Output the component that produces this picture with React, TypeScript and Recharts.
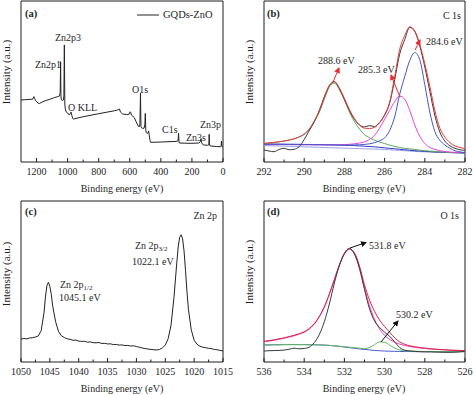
import React from "react";
import { LineChart, Line, XAxis, YAxis, ReferenceArea, Legend } from "recharts";

const FONT = "'Liberation Serif', 'Times New Roman', serif";
const INK = "#1e1e1e";

// (a) survey spectrum
const surveyEnergy = [
  1300, 1270, 1240, 1225, 1217, 1211, 1205, 1198, 1190, 1182, 1165, 1140, 1110, 1085, 1064, 1052,
  1048, 1045, 1043, 1040, 1035, 1027, 1024, 1021, 1018, 1015, 1010, 1000, 989, 982, 978, 973, 967,
  963, 900, 800, 700, 678, 670, 666, 660, 646, 620, 605, 598, 594, 590, 571, 560, 549, 540, 535,
  531, 528, 524, 517, 508, 503, 500, 497, 494, 489, 483, 479, 475, 470, 466, 400, 302, 289, 286,
  283, 281, 250, 200, 155, 146, 142, 138, 133, 124, 100, 92, 90, 89, 87, 85, 77, 40, 17, 12, 10, 8,
  5, 0,
];
const surveyCounts = [
  38.5, 38.7, 38.9, 39.0, 40.6, 39.2, 38.0, 37.4, 36.6, 36.3, 37.2, 38.2, 39.1, 40.0, 40.6, 41.0,
  43, 62.3, 41, 38.6, 38.2, 38.5, 41, 72.7, 36, 33, 31.2, 30.5, 29.2, 30.2, 31.0, 29, 27, 26.7, 28.1,
  30, 31.8, 32.3, 32.8, 32.9, 31, 29.8, 29.5, 29.6, 31.2, 30.8, 29.2, 27.6, 25.2, 23, 21.8, 23, 42.7,
  22, 21.2, 20.9, 21, 23, 30.2, 20, 18.4, 17.8, 17.9, 19.3, 17, 13.5, 12.2, 12.4, 12.8, 13.2, 17.8,
  12.3, 11.8, 11.7, 11.6, 11.8, 12.6, 14.1, 12.2, 11.1, 10.6, 10.4, 10.6, 13, 17.2, 11.5, 10.2, 9.9,
  9.6, 9.5, 9.8, 13, 10.2, 9.4, 9.3,
];
const surveyTicks = [0, 100, 200, 300, 400, 500, 600, 700, 800, 900, 1000, 1100, 1200];
const surveyLabels = [0, 200, 400, 600, 800, 1000, 1200];

// (b) C 1s
const c1sEnergy = [
  292, 291.75, 291.5, 291.25, 291, 290.75, 290.5, 290.25, 290, 289.75, 289.5, 289.25, 289, 288.75,
  288.5, 288.25, 288, 287.75, 287.5, 287.25, 287, 286.75, 286.5, 286.25, 286, 285.75, 285.5, 285.25,
  285, 284.75, 284.5, 284.25, 284, 283.75, 283.5, 283.25, 283, 282.75, 282.5, 282.25, 282,
];
const c1sRaw = [
  7.5, 6.8, 6.4, 7.8, 8.5, 7.6, 7.9, 9.5, 14, 19.5, 25, 32, 40.5, 47.5, 49.8, 45.5, 39, 32, 26.5, 23,
  21.8, 22.6, 22, 24.5, 29, 36.5, 51, 67, 76, 83.6, 81, 72, 59, 44, 29, 18.5, 13, 10, 8.5, 7.6, 7.2,
];
const c1sFit = [
  11.6, 11.9, 12.2, 12.6, 13, 13.6, 14.3, 15.6, 17.5, 20.5, 25.5, 31.5, 40, 47.5, 50, 46, 39.5, 32.5,
  27, 23, 21, 20.8, 21.5, 24.5, 29.5, 37, 53, 70, 78.5, 84, 81.5, 73, 61, 47, 32, 21, 15.5, 12, 10, 9,
  8.3,
];
const c1sCO = [
  11.4, 11.7, 12, 12.5, 13, 13.7, 14.5, 15.6, 17, 20, 25, 31, 39, 46.5, 49, 45, 38.5, 31, 25, 20.5,
  17, 15, 13.5, 12.4, 11.5, 10.5, 9.7, 9, 8.5, 8.1, 7.8, 7.4, 7, 6.8, 6.5, 6.3, 6.1, 5.9, 5.8, 5.7,
  5.6,
];
const c1sCOH = [
  10.8, 10.8, 10.8, 10.8, 10.8, 10.8, 10.7, 10.7, 10.7, 10.7, 10.7, 10.7, 10.7, 10.7, 10.7, 10.8,
  10.8, 11, 11.3, 11.8, 12.5, 14, 16.5, 21, 26.5, 32, 37.5, 41, 39, 32, 23, 16, 11.5, 9, 7.8, 7, 6.5,
  6.2, 6, 5.9, 5.8,
];
const c1sCC = [
  11, 11, 11, 11, 10.9, 10.9, 10.9, 10.8, 10.8, 10.8, 10.7, 10.7, 10.7, 10.6, 10.6, 10.5, 10.5, 10.5,
  10.6, 10.7, 10.9, 11.3, 12, 13.2, 15, 19.5, 28, 42, 53, 63, 68, 63.5, 48, 31, 19, 13.5, 10.5, 8.5, 7,
  6.3, 5.8,
];
const c1sBg = [
  11.2, 11.2, 11.1, 11.1, 11.1, 11.0, 11.0, 11.0, 10.9, 10.9, 10.8, 10.8, 10.7, 10.7, 10.6, 10.5,
  10.4, 10.3, 10.2, 10.0, 9.8, 9.6, 9.4, 9.1, 8.8, 8.5, 8.2, 7.9, 7.6, 7.3, 7.0, 6.8, 6.6, 6.4, 6.2,
  6.1, 6.0, 5.9, 5.8, 5.7, 5.6,
];
const c1sBg2 = [
  10.2, 10.1, 10.0, 9.9, 9.8, 9.7, 9.6, 9.5, 9.4, 9.3, 9.2, 9.1, 9.0, 8.9, 8.8, 8.7, 8.6, 8.5, 8.4,
  8.3, 8.2, 8.1, 8.0, 7.9, 7.8, 7.6, 7.4, 7.2, 7.0, 6.8, 6.6, 6.4, 6.3, 6.2, 6.1, 6.0, 5.9, 5.8, 5.7,
  5.6, 5.5,
];
const c1sTicks = [282, 283, 284, 285, 286, 287, 288, 289, 290, 291, 292];
const c1sLabels = [282, 284, 286, 288, 290, 292];

// (c) Zn 2p
const zn2pEnergy = [
  1050, 1049.5, 1049, 1048.5, 1048, 1047.5, 1047, 1046.5, 1046, 1045.75, 1045.5, 1045.25, 1045,
  1044.75, 1044.5, 1044, 1043.5, 1043, 1042.5, 1042, 1041.5, 1041, 1040.5, 1040, 1039.5, 1039,
  1038.5, 1038, 1037.5, 1037, 1036.5, 1036, 1035.5, 1035, 1034.5, 1034, 1033.5, 1033, 1032.5, 1032,
  1031.5, 1031, 1030.5, 1030, 1029.5, 1029, 1028.5, 1028, 1027.5, 1027, 1026.5, 1026, 1025.5, 1025,
  1024.5, 1024, 1023.5, 1023, 1022.75, 1022.5, 1022.25, 1022, 1021.75, 1021.5, 1021.25, 1021,
  1020.5, 1020, 1019.5, 1019, 1018.5, 1018, 1017.5, 1017, 1016.5, 1016, 1015.5, 1015,
];
const zn2pCounts = [
  14.2, 14.6, 14.4, 14.9, 15.1, 15.5, 16.2, 19.5, 31, 41, 47.5, 49.5, 47, 42, 34.5, 25, 19, 16.3,
  15.2, 14.4, 14.1, 13.5, 13.6, 13, 12.8, 12.9, 12.3, 12.5, 12, 11.9, 12.1, 11.5, 11.6, 11.2, 11.3,
  10.8, 10.9, 10.5, 10.6, 10.2, 10.3, 9.9, 10.1, 9.6, 9.2, 8.7, 8.3, 8.1, 7.8, 7.6, 7.5, 7.8, 8.8,
  10.5, 14.5, 23, 40, 62, 72, 77.5, 79, 76.5, 69, 57, 44, 33, 20, 13.5, 11, 9.8, 9.2, 8.9, 8.5, 8.3,
  7.8, 7.6, 7.2, 6.9,
];
const zn2pTicks = [
  1015, 1017.5, 1020, 1022.5, 1025, 1027.5, 1030, 1032.5, 1035, 1037.5, 1040, 1042.5, 1045, 1047.5,
  1050,
];
const zn2pLabels = [1015, 1020, 1025, 1030, 1035, 1040, 1045, 1050];

// (d) O 1s
const o1sEnergy = [
  536, 535.75, 535.5, 535.25, 535, 534.75, 534.5, 534.25, 534, 533.75, 533.5, 533.25, 533, 532.75,
  532.5, 532.25, 532, 531.75, 531.5, 531.25, 531, 530.75, 530.5, 530.25, 530, 529.75, 529.5, 529.25,
  529, 528.75, 528.5, 528.25, 528, 527.75, 527.5, 527.25, 527, 526.75, 526.5, 526.25, 526,
];
const o1sRaw = [
  6.8, 7.0, 7.1, 7.2, 7.4, 7.9, 8.6, 8.2, 8.4, 9.2, 12, 17, 25, 36, 49, 60, 67.5, 70.6, 67, 58, 45,
  33, 25.5, 21.5, 18.5, 16, 12.5, 9, 7.3, 6.9, 6.6, 6.4, 6.3, 6.3, 6.2, 6.1, 6.0, 6.0, 6.1, 6.3, 6.8,
];
const o1sFit = [
  12.9, 13.3, 13.8, 14.4, 15, 15.8, 16.6, 17.6, 18.8, 20.8, 23.8, 28.3, 34.3, 42.3, 51.3, 60.3, 67.3,
  70.3, 67.8, 59.5, 48, 38.5, 31.5, 26, 22, 18.5, 15, 12.5, 11, 10.1, 9.5, 9.0, 8.6, 8.3, 8, 7.8,
  7.6, 7.4, 7.3, 7.2, 7.1,
];
const o1sMain = [
  12.6, 13.0, 13.5, 14.1, 14.7, 15.5, 16.3, 17.3, 18.5, 20.5, 23.5, 28, 34, 42, 51, 60, 67, 70, 67.5,
  59, 46, 35, 26.5, 20.5, 16.5, 14, 12.3, 11.1, 10.3, 9.6, 9.1, 8.7, 8.4, 8.1, 7.9, 7.7, 7.5, 7.3,
  7.2, 7.1, 7.0,
];
const o1sLattice = [
  10.6, 10.6, 10.7, 10.7, 10.8, 10.8, 10.8, 10.8, 10.8, 10.7, 10.7, 10.6, 10.5, 10.3, 10.1, 9.8, 9.5,
  9.2, 8.9, 8.6, 8.3, 9, 10.8, 12.5, 12.3, 10.5, 8.6, 7.5, 7.0, 6.8, 6.7, 6.6, 6.5, 6.5, 6.4, 6.4,
  6.4, 6.4, 6.4, 6.4, 6.4,
];
const o1sBg = [
  10.6, 10.6, 10.7, 10.7, 10.8, 10.8, 10.8, 10.8, 10.8, 10.7, 10.7, 10.6, 10.5, 10.3, 10, 9.7, 9.3,
  8.9, 8.5, 8.1, 7.8, 7.5, 7.2, 7.0, 6.8, 6.7, 6.6, 6.55, 6.5, 6.5, 6.45, 6.4, 6.4, 6.4, 6.4, 6.4,
  6.4, 6.4, 6.4, 6.4, 6.4,
];
const o1sTicks = [526, 527, 528, 529, 530, 531, 532, 533, 534, 535, 536];
const o1sLabels = [526, 528, 530, 532, 534, 536];

const surveyData = surveyEnergy.map((e, i) => ({ e, v: surveyCounts[i] }));
const c1sData = c1sEnergy.map((e, i) => ({
  e, raw: c1sRaw[i], fit: c1sFit[i], co: c1sCO[i], coh: c1sCOH[i], cc: c1sCC[i], bg: c1sBg[i], bg2: c1sBg2[i],
}));
const zn2pData = zn2pEnergy.map((e, i) => ({ e, v: zn2pCounts[i] }));
const o1sData = o1sEnergy.map((e, i) => ({
  e, raw: o1sRaw[i], fit: o1sFit[i], main: o1sMain[i], lat: o1sLattice[i], bg: o1sBg[i],
}));

// inward tick marks, labels only on the major values
function InTick(props: any) {
  const { x, y, payload, labels } = props;
  const major = labels.includes(payload.value);
  return (
    <g>
      <line x1={x} x2={x} y1={y} y2={y - (major ? 4 : 2.5)} stroke={INK} strokeWidth={1} />
      {major && (
        <text x={x} y={y + 12.5} textAnchor="middle" fontSize={10} fontFamily={FONT} fill={INK}>
          {payload.value}
        </text>
      )}
    </g>
  );
}

function SurveyLegend(props: any) {
  return (
    <div style={{ display: "flex", alignItems: "center", fontFamily: FONT, fontSize: 10.5, color: INK }}>
      {(props.payload || []).map((p: any) => (
        <React.Fragment key={p.value}>
          <svg width={22} height={8}>
            <line x1={0} x2={22} y1={4} y2={4} stroke={p.color} strokeWidth={1} />
          </svg>
          <span style={{ marginLeft: 4 }}>{p.value}</span>
        </React.Fragment>
      ))}
    </div>
  );
}

function xAxisFor(domain: number[], ticks: number[], labels: number[]) {
  return (
    <XAxis
      dataKey="e"
      type="number"
      domain={domain}
      reversed
      allowDataOverflow
      ticks={ticks}
      interval={0}
      height={30}
      axisLine={false}
      tickLine={false}
      tickSize={0}
      tickMargin={0}
      tick={(p: any) => <InTick {...p} labels={labels} />}
    />
  );
}

function frame(x1: number, x2: number) {
  return <ReferenceArea x1={x1} x2={x2} y1={0} y2={100} fill="none" stroke={INK} strokeWidth={1} ifOverflow="visible" />;
}

const W = 237;
const H = 197;

export default function App() {
  const lbl = { fontFamily: FONT, fontSize: 10, fill: INK } as const;
  const ylbl = { fontFamily: FONT, fontSize: 11, fill: INK } as const;
  const bold = { fontFamily: FONT, fontSize: 10.5, fontWeight: 700, fill: INK } as const;
  return (
    <div style={{ position: "absolute", left: 0, top: 0, width: 474, height: 395, background: "#fff" }}>
      <div style={{ position: "absolute", left: 0, top: 0 }}>
        <LineChart width={W} height={H} data={surveyData} margin={{ top: 1, right: 14, bottom: 5, left: 21 }}>
          {xAxisFor([0, 1300], surveyTicks, surveyLabels)}
          <YAxis hide type="number" domain={[0, 100]} />
          {frame(0, 1300)}
          <Legend
            verticalAlign="middle"
            align="center"
            layout="horizontal"
            content={<SurveyLegend />}
            wrapperStyle={{ top: 9, left: 137, width: "auto" }}
          />
          <Line dataKey="v" name="GQDs-ZnO" type="linear" stroke="#222" strokeWidth={1} dot={false} isAnimationActive={false} />
        </LineChart>
      </div>
      <div style={{ position: "absolute", left: 237, top: 0 }}>
        <LineChart width={W} height={H} data={c1sData} margin={{ top: 1, right: 9, bottom: 5, left: 27 }}>
          {xAxisFor([282, 292], c1sTicks, c1sLabels)}
          <YAxis hide type="number" domain={[0, 100]} />
          {frame(282, 292)}
          <Line dataKey="bg2" type="monotone" stroke="#9aa3e6" strokeWidth={1} dot={false} isAnimationActive={false} />
          <Line dataKey="bg" type="monotone" stroke="#2e36c4" strokeWidth={1} dot={false} isAnimationActive={false} />
          <Line dataKey="co" type="monotone" stroke="#5aa955" strokeWidth={1} dot={false} isAnimationActive={false} />
          <Line dataKey="coh" type="monotone" stroke="#e045e0" strokeWidth={1} dot={false} isAnimationActive={false} />
          <Line dataKey="cc" type="monotone" stroke="#4358c6" strokeWidth={1} dot={false} isAnimationActive={false} />
          <Line dataKey="raw" type="monotone" stroke="#3a3a3a" strokeWidth={1} dot={false} isAnimationActive={false} />
          <Line dataKey="fit" type="monotone" stroke="#ea3a3c" strokeWidth={1} dot={false} isAnimationActive={false} />
        </LineChart>
      </div>
      <div style={{ position: "absolute", left: 0, top: 197 }}>
        <LineChart width={W} height={198} data={zn2pData} margin={{ top: 4, right: 14, bottom: 3, left: 21 }}>
          {xAxisFor([1015, 1050], zn2pTicks, zn2pLabels)}
          <YAxis hide type="number" domain={[0, 100]} />
          {frame(1015, 1050)}
          <Line dataKey="v" type="linear" stroke="#222" strokeWidth={1} dot={false} isAnimationActive={false} />
        </LineChart>
      </div>
      <div style={{ position: "absolute", left: 237, top: 197 }}>
        <LineChart width={W} height={198} data={o1sData} margin={{ top: 4, right: 9, bottom: 3, left: 27 }}>
          {xAxisFor([526, 536], o1sTicks, o1sLabels)}
          <YAxis hide type="number" domain={[0, 100]} />
          {frame(526, 536)}
          <Line dataKey="bg" type="monotone" stroke="#4a5bd0" strokeWidth={1} dot={false} isAnimationActive={false} />
          <Line dataKey="lat" type="monotone" stroke="#5fb85f" strokeWidth={1} dot={false} isAnimationActive={false} />
          <Line dataKey="main" type="monotone" stroke="#f03cc8" strokeWidth={1} dot={false} isAnimationActive={false} />
          <Line dataKey="fit" type="monotone" stroke="#d8283e" strokeWidth={1} dot={false} isAnimationActive={false} />
          <Line dataKey="raw" type="monotone" stroke="#3a3a3a" strokeWidth={1} dot={false} isAnimationActive={false} />
        </LineChart>
      </div>

      <svg width={474} height={395} style={{ position: "absolute", left: 0, top: 0, pointerEvents: "none" }}>
        <defs>
          <marker id="arrRed" markerWidth={6} markerHeight={6} refX={5} refY={3} orient="auto" markerUnits="userSpaceOnUse">
            <path d="M0,0 L6,3 L0,6 z" fill="#e8282c" />
          </marker>
          <marker id="arrBlk" markerWidth={6} markerHeight={6} refX={5} refY={3} orient="auto" markerUnits="userSpaceOnUse">
            <path d="M0,0 L6,3 L0,6 z" fill="#111" />
          </marker>
        </defs>

        {/* axis titles */}
        <text x={122} y={191.5} textAnchor="middle" {...lbl}>Binding energy (eV)</text>
        <text x={364} y={191.5} textAnchor="middle" {...lbl}>Binding energy (eV)</text>
        <text x={122} y={392} textAnchor="middle" {...lbl}>Binding energy (eV)</text>
        <text x={364} y={392} textAnchor="middle" {...lbl}>Binding energy (eV)</text>
        <text x={10} y={72} textAnchor="middle" transform="rotate(-90 10 72)" {...ylbl}>Intensity (a.u.)</text>
        <text x={252.5} y={72} textAnchor="middle" transform="rotate(-90 252.5 72)" {...ylbl}>Intensity (a.u.)</text>
        <text x={10} y={274} textAnchor="middle" transform="rotate(-90 10 274)" {...ylbl}>Intensity (a.u.)</text>
        <text x={252.5} y={272} textAnchor="middle" transform="rotate(-90 252.5 272)" {...ylbl}>Intensity (a.u.)</text>

        {/* (a) */}
        <text x={25} y={16.5} {...bold}>(a)</text>
        <text x={55} y={40.5} {...lbl}>Zn2p3</text>
        <text x={35} y={67.5} {...lbl}>Zn2p1</text>
        <text x={68} y={110.5} {...lbl}>O KLL</text>
        <text x={132} y={92.5} {...lbl}>O1s</text>
        <text x={162} y={132.5} {...lbl}>C1s</text>
        <text x={186} y={140.5} {...lbl}>Zn3s</text>
        <text x={200} y={127.5} {...lbl}>Zn3p</text>

        {/* (b) */}
        <text x={267} y={16.5} {...bold}>(b)</text>
        <text x={461} y={18.5} textAnchor="end" {...lbl}>C 1s</text>
        <text x={318} y={64} {...lbl}>288.6 eV</text>
        <text x={358} y={72.5} {...lbl}>285.3 eV</text>
        <text x={426} y={45} {...lbl}>284.6 eV</text>
        <line x1={333} y1={82} x2={339} y2={68} stroke="#e8282c" strokeWidth={1} markerEnd="url(#arrRed)" />
        <line x1={400} y1={97} x2={391} y2={75} stroke="#e8282c" strokeWidth={1} markerEnd="url(#arrRed)" />
        <line x1={415} y1={50} x2={420} y2={40} stroke="#e8282c" strokeWidth={1} markerEnd="url(#arrRed)" />

        {/* (c) */}
        <text x={25} y={215} {...bold}>(c)</text>
        <text x={217} y={218.5} textAnchor="end" {...lbl}>Zn 2p</text>
        <text x={135} y={249} {...lbl}>
          Zn 2p<tspan fontSize={7} dy={2}>3/2</tspan>
        </text>
        <text x={132} y={265} {...lbl}>1022.1 eV</text>
        <text x={60} y={287.5} {...lbl}>
          Zn 2p<tspan fontSize={7} dy={2}>1/2</tspan>
        </text>
        <text x={59} y={301} {...lbl}>1045.1 eV</text>

        {/* (d) */}
        <text x={267} y={214.5} {...bold}>(d)</text>
        <text x={459} y={219} textAnchor="end" {...lbl}>O 1s</text>
        <text x={369} y={248.5} {...lbl}>531.8 eV</text>
        <text x={396} y={317.5} {...lbl}>530.2 eV</text>
        <line x1={350} y1={248} x2={366} y2={242.5} stroke="#111" strokeWidth={1} markerEnd="url(#arrBlk)" />
        <line x1={381} y1={342} x2={398} y2={321} stroke="#111" strokeWidth={1} markerEnd="url(#arrBlk)" />
      </svg>
    </div>
  );
}
